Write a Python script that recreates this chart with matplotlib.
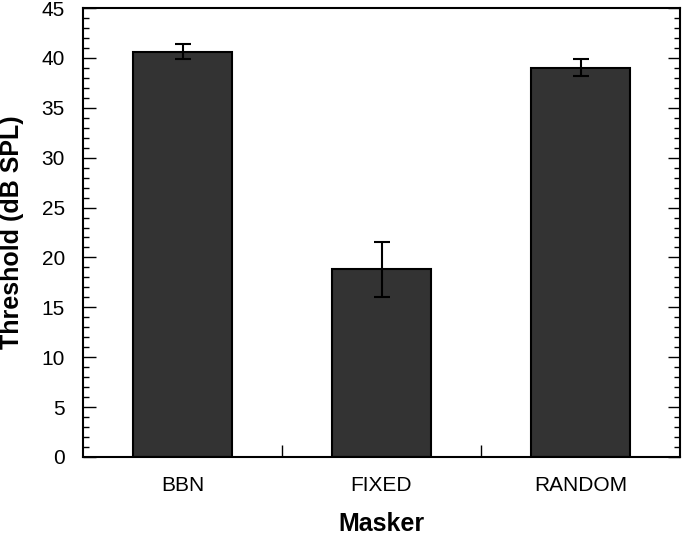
import matplotlib
matplotlib.use("Agg")
from matplotlib import pyplot as plt
from matplotlib.ticker import MultipleLocator, FixedLocator

maskers = ["BBN", "FIXED", "RANDOM"]
thresholds = [40.6, 18.8, 39.0]
errors = [0.75, 2.75, 0.85]

plt.rcParams["font.family"] = ["Liberation Sans", "DejaVu Sans"]

fig = plt.figure(figsize=(6.82, 5.35), dpi=100)
ax = fig.add_axes([83 / 682, 78 / 535, 597 / 682, 449 / 535])

x = range(len(maskers))
ax.bar(x, thresholds, width=0.5, color="#333333", edgecolor="black", linewidth=1.5, zorder=2)
ax.errorbar(x, thresholds, yerr=errors, fmt="none", ecolor="black",
            elinewidth=1.5, capsize=5.5, capthick=1.5, zorder=3)

ax.set_xlim(-0.5, 2.5)
ax.set_ylim(0, 45)

ax.set_xticks(list(x))
ax.set_xticklabels(maskers, fontsize=15)
ax.tick_params(axis="x", which="major", length=0, pad=14)
ax.xaxis.set_minor_locator(FixedLocator([0.5, 1.5]))
ax.tick_params(axis="x", which="minor", direction="in", length=9, width=1)

ax.yaxis.set_major_locator(MultipleLocator(5))
ax.yaxis.set_minor_locator(MultipleLocator(1))
ax.tick_params(axis="y", which="major", direction="in", length=9, width=1,
               labelsize=15, right=True, pad=13)
ax.tick_params(axis="y", which="minor", direction="in", length=4.5, width=1, right=True)

for s in ax.spines.values():
    s.set_linewidth(1.5)

ax.set_xlabel("Masker", fontsize=18, fontweight="bold", labelpad=12)
ax.set_ylabel("Threshold (dB SPL)", fontsize=18, fontweight="bold", labelpad=13)

fig.savefig("out.png", dpi=100)
